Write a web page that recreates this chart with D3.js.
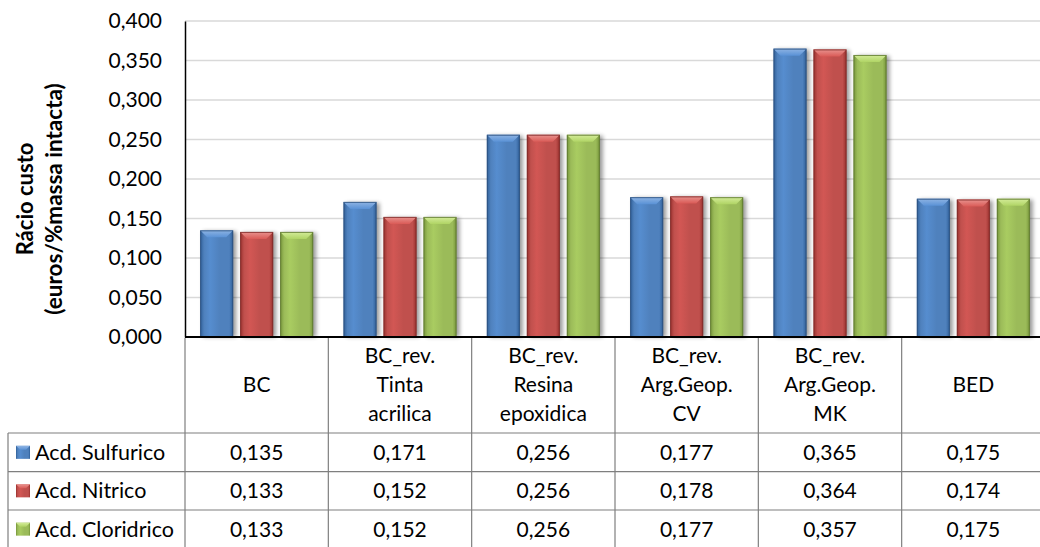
<!DOCTYPE html>
<html>
<head>
<meta charset="utf-8">
<script src="https://cdn.jsdelivr.net/npm/d3@7"></script>
<style>
  html, body { margin: 0; padding: 0; background: #fff; }
  svg { display: block; }
  text { font-family: Lato, "Open Sans", sans-serif; fill: #000; }
</style>
</head>
<body>
<svg id="chart" width="1040" height="547"></svg>
<script>
// ---- data ----
const categories = [
  ["BC"],
  ["BC_rev.", "Tinta", "acrilica"],
  ["BC_rev.", "Resina", "epoxidica"],
  ["BC_rev.", "Arg.Geop.", "CV"],
  ["BC_rev.", "Arg.Geop.", "MK"],
  ["BED"]
];
const seriesNames = ["Acd. Sulfurico", "Acd. Nitrico", "Acd. Cloridrico"];
const sulfurico  = [0.135, 0.171, 0.256, 0.177, 0.365, 0.175];
const nitrico    = [0.133, 0.152, 0.256, 0.178, 0.364, 0.174];
const cloridrico = [0.133, 0.152, 0.256, 0.177, 0.357, 0.175];
const yTicks = [0, 0.05, 0.1, 0.15, 0.2, 0.25, 0.3, 0.35, 0.4];
const yTitle = ["Rácio custo", "(euros/%massa intacta)"];

const seriesValues = [sulfurico, nitrico, cloridrico];
const colors = [
  {base: "#4f81bd", light: "#8fb4e3", dark: "#2f5f98", edge: "#2a4f7c"},
  {base: "#c0504d", light: "#e8938f", dark: "#99302d", edge: "#7d2b29"},
  {base: "#9bbb59", light: "#d4ec9a", dark: "#76953a", edge: "#5d7530"}
];

// ---- layout ----
const svg = d3.select("#chart");
const plotL = 185, plotR = 1045, plotT = 21, plotB = 337;
const tableLeft = 8;
const rowLines = [433, 471.7, 510, 548.3];
const fmt = v => d3.format(".3f")(v).replace(".", ",");

const x0 = d3.scaleBand().domain(d3.range(categories.length)).range([plotL, plotR]).padding(0);
const groupW = 113;
const x1 = d3.scaleBand().domain(d3.range(seriesNames.length))
  .range([(x0.bandwidth() - groupW) / 2, (x0.bandwidth() + groupW) / 2])
  .paddingInner(0.175).paddingOuter(0);
const y = d3.scaleLinear().domain([0, 0.4]).range([plotB, plotT]);

// defs
const defs = svg.append("defs");
colors.forEach((c, i) => {
  const g = defs.append("linearGradient").attr("id", "body" + i)
    .attr("x1", "0").attr("x2", "1").attr("y1", "0").attr("y2", "0");
  [[0, c.dark], [0.12, c.base], [0.3, d3.color(c.base).brighter(0.25)], [0.6, c.base], [0.88, c.base], [1, c.dark]]
    .forEach(([o, col]) => g.append("stop").attr("offset", o).attr("stop-color", col));
  const t = defs.append("linearGradient").attr("id", "cap" + i)
    .attr("x1", "0").attr("x2", "0").attr("y1", "0").attr("y2", "1");
  t.append("stop").attr("offset", 0).attr("stop-color", c.light);
  t.append("stop").attr("offset", 1).attr("stop-color", d3.color(c.base).brighter(0.35));
});
const f = defs.append("filter").attr("id", "shadow").attr("x", "-30%").attr("y", "-10%").attr("width", "160%").attr("height", "130%");
f.append("feGaussianBlur").attr("stdDeviation", 2);

// gridlines
svg.append("g").selectAll("line").data(yTicks.filter(d => d > 0)).join("line")
  .attr("x1", plotL).attr("x2", 1040).attr("y1", d => y(d)).attr("y2", d => y(d))
  .attr("stroke", "#d9d9d9").attr("stroke-width", 1.5);

// y axis via d3 axis
const yAxis = d3.axisLeft(y).tickValues(yTicks).tickFormat(fmt).tickSize(0).tickPadding(23);
const ga = svg.append("g").attr("transform", `translate(${plotL},0)`).call(yAxis);
ga.select(".domain").attr("stroke", "#000").attr("stroke-width", 1.5);
ga.selectAll("text").style("font-family", "Lato, sans-serif").style("font-size", "21px").attr("fill", "#000");

// y title
const yt = svg.append("g").attr("transform", "translate(0,199) rotate(-90)");
yt.append("text").attr("x", 0).attr("y", 33).attr("text-anchor", "middle")
  .style("font-size", "22px").style("font-weight", "bold").text(yTitle[0]);
yt.append("text").attr("x", 0).attr("y", 62).attr("text-anchor", "middle")
  .style("font-size", "22.5px").style("font-weight", "bold").text(yTitle[1]);

// bars
const bars = svg.append("g");
seriesValues.forEach((vals, s) => {
  const g = bars.append("g");
  vals.forEach((v, i) => {
    const bx = x0(i) + x1(s), bw = x1.bandwidth(), by = y(v), bh = plotB - y(v);
    g.append("rect").attr("x", bx + 3).attr("y", by + 1).attr("width", bw).attr("height", bh - 1)
      .attr("fill", "#000").attr("opacity", 0.4).attr("filter", "url(#shadow)");
    g.append("rect").attr("x", bx).attr("y", by).attr("width", bw).attr("height", bh)
      .attr("fill", `url(#body${s})`);
    const d = 7;
    g.append("path")
      .attr("d", `M${bx},${by} L${bx + bw},${by} L${bx + bw - d},${by + d} L${bx + d},${by + d} Z`)
      .attr("fill", `url(#cap${s})`);
    g.append("rect").attr("x", bx + 0.5).attr("y", by + 0.5).attr("width", bw - 1).attr("height", bh - 1)
      .attr("fill", "none").attr("stroke", colors[s].edge).attr("stroke-opacity", 0.8).attr("stroke-width", 1);
  });
});

// baseline
svg.append("line").attr("x1", plotL).attr("x2", 1040).attr("y1", plotB).attr("y2", plotB)
  .attr("stroke", "#000").attr("stroke-width", 2);

// table lines
const tl = svg.append("g").attr("stroke", "#7f7f7f").attr("stroke-width", 1.2);
x0.domain().forEach(i => {
  tl.append("line").attr("x1", x0(i)).attr("x2", x0(i)).attr("y1", plotB + 1).attr("y2", 547);
});
tl.append("line").attr("x1", tableLeft).attr("x2", tableLeft).attr("y1", rowLines[0]).attr("y2", 547);
rowLines.slice(0, 3).forEach(r => {
  tl.append("line").attr("x1", tableLeft).attr("x2", 1040).attr("y1", r).attr("y2", r);
});

// header labels
const headerMid = (plotB + rowLines[0]) / 2;
categories.forEach((lines, i) => {
  const cx = x0(i) + x0.bandwidth() / 2;
  const t = svg.append("text").attr("text-anchor", "middle").style("font-size", "21px");
  lines.forEach((ln, k) => {
    t.append("tspan").attr("x", cx)
      .attr("y", headerMid + (k - (lines.length - 1) / 2) * 29)
      .attr("dy", "0.35em").text(ln);
  });
});

// rows
seriesNames.forEach((name, s) => {
  const cy = (rowLines[s] + rowLines[s + 1]) / 2;
  const kx = 16, ky = cy - 6.5, ks = 14;
  svg.append("rect").attr("x", kx).attr("y", ky).attr("width", ks).attr("height", 13)
    .attr("fill", `url(#body${s})`);
  svg.append("path")
    .attr("d", `M${kx},${ky} L${kx + ks},${ky} L${kx + ks - 4},${ky + 4} L${kx + 4},${ky + 4} Z`)
    .attr("fill", `url(#cap${s})`);
  svg.append("text").attr("x", 35).attr("y", cy).attr("dy", "0.35em")
    .style("font-size", "21.5px").text(name);
  seriesValues[s].forEach((v, i) => {
    svg.append("text").attr("x", x0(i) + x0.bandwidth() / 2).attr("y", cy).attr("dy", "0.35em")
      .attr("text-anchor", "middle").style("font-size", "21px").text(fmt(v));
  });
});
</script>
</body>
</html>
